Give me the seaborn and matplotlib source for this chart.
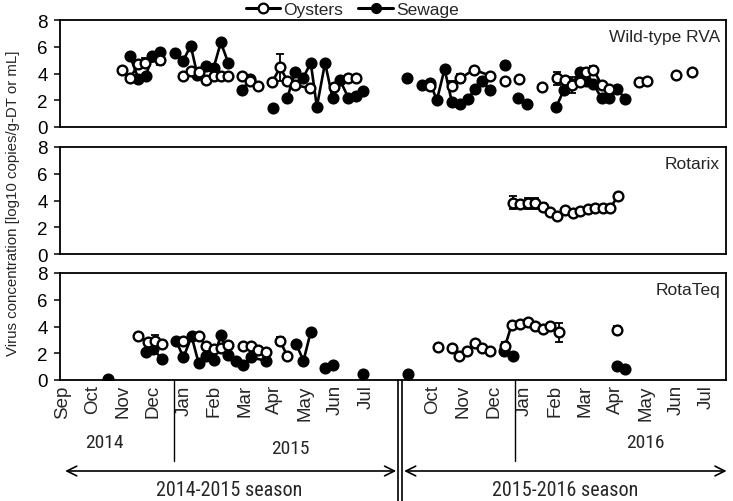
import numpy as np
import pandas as pd
import matplotlib
matplotlib.use("Agg")
import matplotlib.pyplot as plt
import matplotlib.transforms as mtransforms
from matplotlib.lines import Line2D
from matplotlib import font_manager as fm
import seaborn as sns

sns.set_style("ticks")
plt.rcParams["font.family"] = ["Liberation Sans", "DejaVu Sans"]

# ---------------- axis categories ----------------
months_s1 = ["Sep", "Oct", "Nov", "Dec", "Jan", "Feb", "Mar", "Apr", "May", "Jun", "Jul"]
months_s2 = ["Oct", "Nov", "Dec", "Jan", "Feb", "Mar", "Apr", "May", "Jun", "Jul"]
month_pos_s1 = [0, 1, 2, 3, 4, 5, 6, 7, 8, 9, 10]
month_pos_s2 = [12.2, 13.2, 14.2, 15.2, 16.2, 17.2, 18.2, 19.2, 20.2, 21.2]
years = ["2014", "2015", "2016"]
year_pos = [1.4, 7.5, 19.2]
year_dividers = [3.68, 14.9]
seasons = ["2014-2015 season", "2015-2016 season"]
season_pos = [5.5, 16.55]
season_gap = [11.05, 11.18]
panel_names = ["Wild-type RVA", "Rotarix", "RotaTeq"]

# ---------------- data (None = break in the line) ----------------
wt_oys_x = [1.96, 2.24, 2.51, 2.73, 3.22, None,
            3.97, 4.23, 4.49, 4.73, 4.98, 5.22, 5.47, None,
            5.91, 6.18, 6.43, None,
            6.92, 7.17, 7.41, 7.66, 8.16, None, 8.93, 9.42, 9.67, None,
            12.1, None, 12.82, 13.09, 13.55, 14.08, None, 14.57, None, 15.04, None, 15.78, None,
            16.27, 16.55, 16.77, 17.04, 17.24, 17.48, 17.75, 18.0, None,
            18.99, 19.25, None, 20.2, None, 20.71]
wt_oys_v = [4.26, 3.68, 4.68, 4.8, 5.0, None,
            3.79, 4.21, 4.09, 3.51, 3.79, 3.79, 3.79, None,
            3.79, 3.45, 3.09, None,
            3.39, 4.46, 3.46, 3.14, 2.89, None, 2.97, 3.66, 3.66, None,
            3.1, None, 3.09, 3.64, 4.28, 3.84, None, 3.41, None, 3.59, None, 3.01, None,
            3.64, 3.54, 3.16, 3.4, 4.13, 4.28, 3.14, 2.84, None,
            3.39, 3.46, None, 3.91, None, 4.13]
wt_sew_x = [2.24, 2.51, 2.76, 2.95, 3.22, None,
            3.72, 3.97, 4.23, 4.45, 4.73, 4.98, 5.22, 5.47, None,
            5.93, 6.18, None, 6.93, None,
            7.41, 7.66, 7.92, 8.18, 8.38, 8.65, 8.9, 9.14, 9.42, 9.67, 9.91, None,
            11.36, None,
            11.83, 12.1, 12.33, 12.58, 12.82, 13.09, 13.34, 13.59, 13.8, 14.08, None,
            14.57, None, 15.01, 15.29, None,
            16.25, 16.51, 16.77, 17.04, 17.24, 17.48, 17.75, 18.0, 18.27, 18.52]
wt_sew_v = [5.28, 3.59, 3.79, 5.33, 5.63, None,
            5.5, 4.9, 6.08, 3.89, 4.58, 4.39, 6.33, 4.76, None,
            2.77, 3.59, None, 1.4, None,
            2.17, 4.13, 3.64, 4.79, 1.52, 4.79, 2.14, 3.51, 2.17, 2.34, 2.71, None,
            3.64, None,
            3.14, 3.29, 2.02, 4.34, 1.89, 1.72, 2.09, 2.84, 3.46, 2.79, None,
            4.66, None, 2.14, 1.72, None,
            1.47, 2.79, 3.2, 4.1, 3.46, 3.21, 2.14, 2.14, 2.84, 2.09]
wt_err_x = [2.73, 3.22, 7.17, 12.82, 13.09, 16.27, 16.77, 17.48]
wt_err_v = [4.8, 5.0, 4.46, 3.09, 3.64, 3.64, 3.16, 4.28]
wt_err_e = [0.35, 0.35, 1.0, 0.35, 0.35, 0.5, 0.6, 0.3]

rx_oys_x = [14.82, 15.07, 15.31, 15.56, 15.81, 16.05, 16.29, 16.55, 16.8, 17.04,
            17.29, 17.53, 17.79, 18.03, 18.28]
rx_oys_v = [3.84, 3.74, 3.79, 3.79, 3.54, 3.16, 2.84, 3.29, 3.09, 3.24,
            3.34, 3.41, 3.41, 3.41, 4.34]
rx_sew_x = []
rx_sew_v = []
rx_err_x = [14.82, 15.31, 15.56, 15.81]
rx_err_v = [3.84, 3.79, 3.79, 3.54]
rx_err_e = [0.5, 0.4, 0.4, 0.3]

rt_oys_x = [2.51, 2.81, 3.04, 3.28, None,
            3.99, 4.49, 4.74, 4.98, 5.22, 5.47, None, 5.94, 6.2, 6.46, 6.71, None,
            7.17, 7.41, None,
            12.35, None, 12.82, 13.07, 13.33, 13.59, 13.8, 14.06, None,
            14.57, 14.79, 15.07, 15.31, 15.56, 15.81, 16.05, 16.33, None,
            18.25]
rt_oys_v = [3.31, 2.81, 2.94, 2.69, None,
            2.94, 3.26, 2.52, 2.32, 2.37, 2.62, None, 2.52, 2.52, 2.27, 2.12, None,
            2.94, 1.77, None,
            2.49, None, 2.37, 1.82, 2.19, 2.74, 2.37, 2.19, None,
            2.52, 4.14, 4.19, 4.31, 4.06, 3.81, 4.06, 3.56, None,
            3.76]
rt_sew_x = [1.52, None,
            2.75, 3.0, 3.28, None,
            3.75, 3.99, 4.26, 4.49, 4.74, 4.98, 5.22, 5.47, 5.72, 5.94, 6.2, 6.71, None,
            7.7, 7.94, 8.18, None, 8.65, 8.92, None, 9.89, None,
            11.39, None, 14.54, 14.83, None, 18.25, 18.52]
rt_sew_v = [0.07, None,
            2.07, 2.32, 1.57, None,
            2.94, 1.69, 3.26, 1.27, 1.82, 1.52, 3.36, 1.87, 1.44, 1.12, 1.69, 1.44, None,
            2.69, 1.44, 3.61, None, 0.87, 1.12, None, 0.45, None,
            0.45, None, 2.19, 1.77, None, 1.07, 0.82]
rt_err_x = [3.04, 7.17, 14.57, 15.31, 16.33, 18.25]
rt_err_v = [2.94, 2.94, 2.52, 4.31, 3.56, 3.76]
rt_err_e = [0.45, 0.3, 0.3, 0.25, 0.7, 0.3]


def to_frame(xs, vs):
    rows, seg = [], 0
    for x, v in zip(xs, vs):
        if x is None:
            seg += 1
            continue
        rows.append((x, v, seg))
    return pd.DataFrame(rows, columns=["x", "v", "seg"])


def condensed_font(size):
    prefs = ["liberation sans narrow", "roboto condensed", "dejavu sans condensed",
             "open sans condensed", "noto sans condensed"]
    cands = []
    for f in fm.fontManager.ttflist:
        fn = f.fname.lower()
        if any(s in fn for s in ("bold", "italic", "oblique", "light", "thin", "black", "medium")):
            continue
        key = (f.name + " " + str(f.stretch) + " " + fn.replace("-", " ")).lower()
        if "narrow" in key or "condensed" in key:
            rank = len(prefs)
            for i, p in enumerate(prefs):
                if p.split()[0] in key:
                    rank = i
                    break
            cands.append((rank, f.fname))
    if cands:
        cands.sort()
        return fm.FontProperties(fname=cands[0][1], size=size)
    return fm.FontProperties(family="Liberation Sans", size=size - 1.5)


panels = [
    (wt_oys_x, wt_oys_v, wt_sew_x, wt_sew_v, wt_err_x, wt_err_v, wt_err_e),
    (rx_oys_x, rx_oys_v, rx_sew_x, rx_sew_v, rx_err_x, rx_err_v, rx_err_e),
    (rt_oys_x, rt_oys_v, rt_sew_x, rt_sew_v, rt_err_x, rt_err_v, rt_err_e),
]

W, H = 733, 502
fig = plt.figure(figsize=(W / 100, H / 100), dpi=100)
left_px, right_px = 60, 726
tops = [21, 148, 274]
ph = 107
axes = []
for t in tops:
    ax = fig.add_axes([left_px / W, 1 - (t + ph) / H, (right_px - left_px) / W, ph / H])
    axes.append(ax)

line_kw = dict(color="black", linewidth=1.9, marker="o", markersize=7.0,
               markeredgecolor="black", markeredgewidth=1.7, estimator=None,
               sort=False, legend=False)

for ax, (ox, ov, sx, sv, ex, ev, ee), name in zip(axes, panels, panel_names):
    ax.errorbar(ex, ev, yerr=ee, fmt="none", ecolor="black", elinewidth=1.3,
                capsize=3, capthick=1.3, zorder=1)
    if len(sx):
        sns.lineplot(data=to_frame(sx, sv), x="x", y="v", units="seg", ax=ax,
                     markerfacecolor="black", zorder=2, **line_kw)
    sns.lineplot(data=to_frame(ox, ov), x="x", y="v", units="seg", ax=ax,
                 markerfacecolor="white", zorder=3, **line_kw)
    ax.set_xlim(-0.07, 21.84)
    ax.set_ylim(0, 8)
    ax.set_yticks([0, 2, 4, 6, 8])
    ax.set_xlabel("")
    ax.set_ylabel("")
    for sp in ax.spines.values():
        sp.set_visible(True)
        sp.set_linewidth(1.3)
        sp.set_color("black")
    ax.tick_params(axis="y", direction="out", length=4, width=1.1, labelsize=13.5,
                   pad=5, colors="black")
    ax.tick_params(axis="x", length=0)
    ax.text(0.991, 0.85, name, transform=ax.transAxes, ha="right", va="center",
            fontsize=12.5)
    ax.set_xticks([])

ax3 = axes[2]
ax3.set_xticks(month_pos_s1 + month_pos_s2)
ax3.set_xticklabels(months_s1 + months_s2, rotation=90, fontsize=13.5)
ax3.tick_params(axis="x", length=0, pad=3)


def ay(py):
    return (tops[2] + ph - py) / ph


trans = mtransforms.blended_transform_factory(ax3.transData, ax3.transAxes)
year_fp = condensed_font(14)
season_fp = condensed_font(14.5)
year_y = [443, 449, 443]
for yl, xp, yp in zip(years, year_pos, year_y):
    ax3.text(xp, ay(yp), yl, transform=trans, ha="center", va="center",
             fontproperties=year_fp)
for xd in year_dividers:
    ax3.add_line(Line2D([xd, xd], [0, ay(462)], transform=trans, color="black",
                        lw=1.0, clip_on=False))
for xg in season_gap:
    ax3.add_line(Line2D([xg, xg], [0, ay(503)], transform=trans, color="black",
                        lw=1.2, clip_on=False))
arrow_kw = dict(arrowstyle="<->,head_length=0.7,head_width=0.35", lw=1.2, color="black",
                shrinkA=0, shrinkB=0)
ax3.annotate("", xy=(0.1, ay(472)), xytext=(10.99, ay(472)), xycoords=trans,
             textcoords=trans, arrowprops=arrow_kw, annotation_clip=False)
ax3.annotate("", xy=(11.25, ay(472)), xytext=(21.86, ay(472)), xycoords=trans,
             textcoords=trans, arrowprops=arrow_kw, annotation_clip=False)
for sl, xp in zip(seasons, season_pos):
    ax3.text(xp, ay(491), sl, transform=trans, ha="center", va="center",
             fontproperties=season_fp)

fig.text(13 / W, 1 - 203 / H, "Virus concentration [log10 copies/g-DT or mL]",
         rotation=90, ha="center", va="center", fontsize=10.8)

handles = [
    Line2D([], [], color="black", lw=2.2, marker="o", markersize=7,
           markerfacecolor="white", markeredgecolor="black", markeredgewidth=1.6),
    Line2D([], [], color="black", lw=2.2, marker="o", markersize=7,
           markerfacecolor="black", markeredgecolor="black"),
]
fig.legend(handles, ["Oysters", "Sewage"], loc="center",
           bbox_to_anchor=(352 / W, 1 - 10 / H), ncol=2, frameon=False,
           fontsize=12.5, handlelength=2.0, handletextpad=0.15, columnspacing=0.9,
           borderpad=0, borderaxespad=0)

fig.savefig("out.png", dpi=100)
